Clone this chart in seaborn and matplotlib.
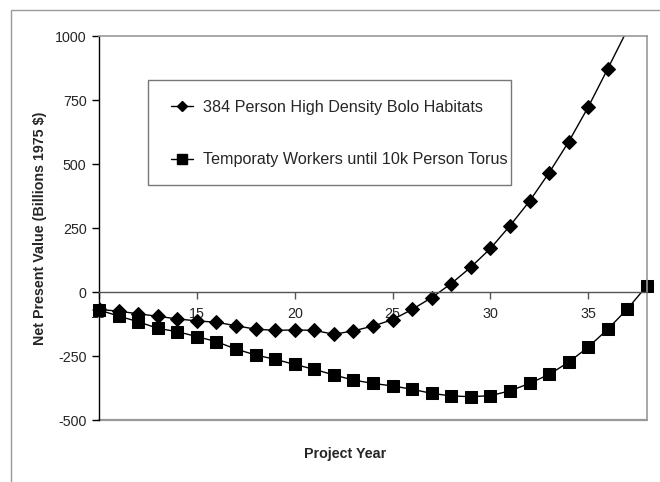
import numpy as np
import pandas as pd
import matplotlib.pyplot as plt
import matplotlib.patches as mpatches
from matplotlib.lines import Line2D
import seaborn as sns

sns.set_theme(style="white")
plt.rcParams["font.family"] = ["Liberation Sans", "DejaVu Sans"]
plt.rcParams["axes.unicode_minus"] = False

# Project years and net present values (billions 1975 $)
bolo_years = [10, 11, 12, 13, 14, 15, 16, 17, 18, 19, 20, 21, 22, 23, 24, 25,
              26, 27, 28, 29, 30, 31, 32, 33, 34, 35, 36, 37]
bolo_npv = [-68, -75, -85, -95, -105, -113, -118, -132, -145, -150, -148, -150,
            -165, -152, -133, -108, -68, -22, 33, 97, 170, 259, 355, 466, 587,
            723, 873, 1025]

torus_years = [10, 11, 12, 13, 14, 15, 16, 17, 18, 19, 20, 21, 22, 23, 24, 25,
               26, 27, 28, 29, 30, 31, 32, 33, 34, 35, 36, 37, 38]
torus_npv = [-70, -94, -116, -142, -155, -174, -194, -223, -246, -263, -283,
             -302, -324, -344, -357, -367, -380, -396, -406, -409, -405, -386,
             -357, -322, -274, -215, -145, -66, 25]

label_bolo = "384 Person High Density Bolo Habitats"
label_torus = "Temporaty Workers until 10k Person Torus"

bolo_df = pd.DataFrame({"year": bolo_years, "npv": bolo_npv})
torus_df = pd.DataFrame({"year": torus_years, "npv": torus_npv})

fig = plt.figure(figsize=(6.6, 4.82), dpi=100)
ax = fig.add_axes([99 / 660, 1 - 420 / 482, 548 / 660, 384 / 482])

# outer chart border (left and top visible only)
fig.patches.append(mpatches.Rectangle((11 / 660, -0.2), 1.2, 1.2 - 10 / 482,
                                      transform=fig.transFigure, fill=False,
                                      edgecolor="#999999", linewidth=1))

sns.lineplot(data=bolo_df, x="year", y="npv", ax=ax, color="black", linewidth=1,
             marker="D", markersize=7.5, markeredgecolor="black",
             markevery=list(range(len(bolo_years) - 1)))
sns.lineplot(data=torus_df, x="year", y="npv", ax=ax, color="black", linewidth=1,
             marker="s", markersize=8, markeredgecolor="black", clip_on=False)

ax.set_xlim(10, 38)
ax.set_ylim(-500, 1000)
ax.set_yticks(np.arange(-500, 1001, 250))
ax.set_xticks([10, 15, 20, 25, 30, 35])

for side in ["top", "right"]:
    ax.spines[side].set_color("#999999")
    ax.spines[side].set_linewidth(1.2)
ax.spines["left"].set_color("black")
ax.spines["left"].set_linewidth(1)
ax.spines["bottom"].set_position(("data", 0))
ax.spines["bottom"].set_color("#555555")
ax.spines["bottom"].set_linewidth(1)
ax.axhline(-500, color="#999999", linewidth=1.6, clip_on=False, zorder=0)

ax.tick_params(axis="y", direction="out", length=5, width=1, color="black",
               labelsize=10.3, left=True, pad=4)
ax.tick_params(axis="x", direction="out", length=5, width=1, color="#555555",
               labelsize=10.3, bottom=True, pad=6)

ax.set_xlabel("Project Year", fontsize=10.3, fontweight="bold")
ax.set_ylabel("Net Present Value (Billions 1975 $)", fontsize=10.3, fontweight="bold")
ax.xaxis.set_label_coords(0.45, -0.07)
ax.yaxis.set_label_coords(-0.095, 0.5)

# legend box drawn as a plain frame, entries placed inside it
ax.add_patch(mpatches.Rectangle((0.0894, 0.612), 0.663, 0.273, transform=ax.transAxes,
                                fill=True, facecolor="white", edgecolor="#777777",
                                linewidth=1, zorder=3))
handles = [
    Line2D([], [], color="black", linewidth=1, marker="D", markersize=5.5),
    Line2D([], [], color="black", linewidth=1, marker="s", markersize=7),
]
leg = ax.legend(handles, [label_bolo, label_torus], loc="center left",
                bbox_to_anchor=(0.131, 0.746), fontsize=11.6, frameon=False,
                borderpad=0, labelspacing=2.35, handlelength=1.35,
                handletextpad=0.65, borderaxespad=0)
leg.set_zorder(4)

plt.savefig("out.png", dpi=100)
